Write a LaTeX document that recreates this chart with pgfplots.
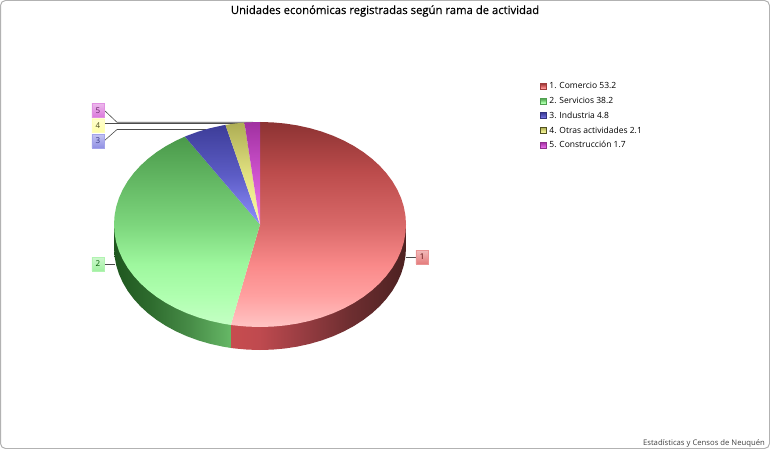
\documentclass[border=0pt]{standalone}
\usepackage{fontspec}
\setmainfont{Open Sans}
\newfontfamily\titlefont{Open Sans}[FakeBold=0.35]
\usepackage{pgfplots}
\pgfplotsset{compat=1.18}

\definecolor{rojo}{HTML}{E06666}
\definecolor{rojob}{HTML}{A03C3C}
\definecolor{verde}{HTML}{90EE90}
\definecolor{verdeb}{HTML}{50A050}
\definecolor{azul}{HTML}{5C5CD8}
\definecolor{azulb}{HTML}{333380}
\definecolor{amar}{HTML}{FFFF99}
\definecolor{amarb}{HTML}{505020}
\definecolor{viol}{HTML}{D050D0}
\definecolor{violb}{HTML}{903090}

% gradients of the slices: the bounding box of a path takes 25bp (bottom) to 75bp (top)
\pgfdeclareverticalshading{faceA}{100bp}{rgb(0bp)=(1,.77,.77); rgb(25bp)=(1,.77,.77); rgb(32.5bp)=(1,.63,.63); rgb(40bp)=(.98,.54,.54); rgb(50bp)=(.85,.41,.41); rgb(62.5bp)=(.74,.30,.30); rgb(75bp)=(.55,.20,.20); rgb(100bp)=(.55,.20,.20)}
\pgfdeclareverticalshading{faceB}{100bp}{rgb(0bp)=(.77,1,.77); rgb(25bp)=(.77,1,.77); rgb(32.5bp)=(.69,1,.69); rgb(41bp)=(.62,.97,.62); rgb(51.5bp)=(.49,.84,.49); rgb(75bp)=(.29,.60,.29); rgb(100bp)=(.29,.60,.29)}
\pgfdeclareverticalshading{faceC}{100bp}{rgb(0bp)=(.56,.56,1); rgb(25bp)=(.56,.56,1); rgb(50bp)=(.36,.36,.77); rgb(75bp)=(.24,.24,.60); rgb(100bp)=(.24,.24,.60)}
\pgfdeclareverticalshading{faceD}{100bp}{rgb(0bp)=(1,1,.66); rgb(25bp)=(1,1,.66); rgb(50bp)=(.88,.88,.50); rgb(75bp)=(.68,.68,.33); rgb(100bp)=(.68,.68,.33)}
\pgfdeclareverticalshading{faceE}{100bp}{rgb(0bp)=(.94,.50,.94); rgb(25bp)=(.94,.50,.94); rgb(50bp)=(.80,.32,.80); rgb(75bp)=(.63,.19,.63); rgb(100bp)=(.63,.19,.63)}
% side walls, 25bp = left, 75bp = right
\pgfdeclarehorizontalshading{wallA}{100bp}{rgb(0bp)=(.78,.30,.31); rgb(25bp)=(.78,.30,.31); rgb(33bp)=(.75,.29,.31); rgb(45bp)=(.60,.24,.26); rgb(59bp)=(.43,.18,.19); rgb(75bp)=(.30,.13,.13); rgb(100bp)=(.30,.13,.13)}
\pgfdeclarehorizontalshading{wallB}{100bp}{rgb(0bp)=(.12,.34,.12); rgb(25bp)=(.12,.34,.12); rgb(40.5bp)=(.18,.42,.18); rgb(57.5bp)=(.28,.55,.28); rgb(75bp)=(.40,.72,.40); rgb(100bp)=(.40,.72,.40)}

\pgfplotsset{
  swatch/.style 2 args={legend image code/.code={
    \draw[fill=#1,draw=#2,line width=.6pt] (0pt,-3pt) rectangle (6pt,3pt);}},
  leader/.style={forget plot,draw=black!70,line width=.6pt},
}
\tikzset{callout/.style 2 args={draw=#1!70,top color=#1!45,bottom color=#1!85,text=#2,
  minimum width=12.5pt,minimum height=13.5pt,inner sep=0pt,font=\fontsize{8}{9}\selectfont}}

\begin{document}
\begin{tikzpicture}
\begin{axis}[
  width=770pt, height=449pt, scale only axis,
  xmin=0, xmax=770, ymin=0, ymax=449, y dir=reverse,
  hide axis, clip=false,
  title={\fontsize{11.3}{13}\selectfont\titlefont Unidades económicas registradas según rama de actividad},
  title style={at={(axis description cs:0.5,0.962)},anchor=center,inner sep=0pt},
  legend style={at={(axis cs:539.5,81)},anchor=north west,draw=none,fill=none,
    inner sep=0pt,row sep=4.55pt,column sep=2pt,font=\fontsize{8.5}{10}\selectfont,
    nodes={inner ysep=.6pt,inner xsep=1.1pt,text height=7pt,text depth=2pt}},
  legend cell align=left,
]
% outer frame
\draw[black!30,line width=1pt,rounded corners=5pt] (axis cs:0.5,0.5) rectangle (axis cs:769.5,448.5);

% leader lines, under the pie
\addplot[leader] coordinates {(406,257) (416,257)};
\addplot[leader] coordinates {(104,264) (115,264)};
\addplot[leader] coordinates {(104,141) (117,129.5) (206,129.5)};
\addplot[leader] coordinates {(104,123) (240,123)};
\addplot[leader] coordinates {(104,110) (117,122.3) (253,122.3)};

% side walls: lower rim is the top rim moved down 23; the face covers the rest
\addplot[forget plot,shade,shading=wallA,draw=none] coordinates {
 (406,224.5) (406,247.5) (405.44,256.43) (403.78,265.30) (401.03,274.03) (397.19,282.56)
 (392.32,290.82) (386.44,298.75) (379.60,306.29) (371.84,313.39) (363.24,319.98)
 (353.85,326.02) (343.74,331.46) (333.00,336.27) (321.70,340.40) (309.94,343.82)
 (297.79,346.51) (285.35,348.44) (272.73,349.61) (260.00,350.00) (247.27,349.61)
 (234.65,348.44) (230.84,347.94) (230.84,324.94)} --cycle;
\addplot[forget plot,shade,shading=wallB,draw=none] coordinates {
 (230.84,324.94) (230.84,347.94) (222.21,346.51) (210.06,343.82) (198.30,340.40)
 (187.00,336.27) (176.26,331.46) (166.15,326.02) (156.76,319.98) (148.16,313.39)
 (140.40,306.29) (133.56,298.75) (127.68,290.82) (122.81,282.56) (118.97,274.03)
 (116.22,265.30) (114.56,256.43) (114,247.5) (114,224.5)} --cycle;

% 1. Comercio 53.2
\addplot[shade,shading=faceA,draw=none,swatch={rojo}{rojob}] coordinates {
 (260,224.5) (260.00,122.00) (272.73,122.39) (285.35,123.56) (297.79,125.49) (309.94,128.18)
 (321.70,131.60) (333.00,135.73) (343.74,140.54) (353.85,145.98) (363.24,152.02)
 (371.84,158.61) (379.60,165.71) (386.44,173.25) (392.32,181.18) (397.19,189.44)
 (401.03,197.97) (403.78,206.70) (405.44,215.57) (406.00,224.50) (405.44,233.43)
 (403.78,242.30) (401.03,251.03) (397.19,259.56) (392.32,267.82) (386.44,275.75)
 (379.60,283.29) (371.84,290.39) (363.24,296.98) (353.85,303.02) (343.74,308.46)
 (333.00,313.27) (321.70,317.40) (309.94,320.82) (297.79,323.51) (285.35,325.44)
 (272.73,326.61) (260.00,327.00) (247.27,326.61) (234.65,325.44) (230.84,324.94)} --cycle;
\addlegendentry{1. Comercio 53.2}

% 2. Servicios 38.2
\addplot[shade,shading=faceB,draw=none,swatch={verde}{verdeb}] coordinates {
 (260,224.5) (230.84,324.94) (222.21,323.51) (210.06,320.82) (198.30,317.40) (187.00,313.27)
 (176.26,308.46) (166.15,303.02) (156.76,296.98) (148.16,290.39) (140.40,283.29)
 (133.56,275.75) (127.68,267.82) (122.81,259.56) (118.97,251.03) (116.22,242.30)
 (114.56,233.43) (114.00,224.50) (114.56,215.57) (116.22,206.70) (118.97,197.97)
 (122.81,189.44) (127.68,181.18) (133.56,173.25) (140.40,165.71) (148.16,158.61)
 (156.76,152.02) (166.15,145.98) (176.26,140.54) (184.90,136.61)} --cycle;
\addlegendentry{2. Servicios 38.2}

% 3. Industria 4.8
\addplot[shade,shading=faceC,draw=none,swatch={azul}{azulb}] coordinates {
 (260,224.5) (184.90,136.61) (187.00,135.73) (198.30,131.60) (210.06,128.18) (222.21,125.49) (225.47,124.91)} --cycle;
\addlegendentry{3. Industria 4.8}

% 4. Otras actividades 2.1
\addplot[shade,shading=faceD,draw=none,swatch={amar}{amarb}] coordinates {
 (260,224.5) (225.47,124.91) (234.65,123.56) (244.44,122.58)} --cycle;
\addlegendentry{4. Otras actividades 2.1}

% 5. Construcción 1.7
\addplot[shade,shading=faceE,draw=none,swatch={viol}{violb}] coordinates {
 (260,224.5) (244.44,122.58) (247.27,122.39) (260,122)} --cycle;
\addlegendentry{5. Construcción 1.7}

% numbered callouts
\node[callout={rojo}{black!70!red}] at (axis cs:422.2,257) {1};
\node[callout={verde}{green!35!black}] at (axis cs:98,264) {2};
\node[callout={azul!80!white}{azulb}] at (axis cs:98,141) {3};
\node[callout={amar}{amarb}] at (axis cs:98,125.5) {4};
\node[callout={viol!90!white}{violb!70!black}] at (axis cs:98,110.3) {5};

\node[anchor=east,inner sep=0pt,text=black!75,font=\fontsize{7.7}{9}\selectfont] at (axis cs:765,443) {Estadísticas y Censos de Neuquén};
\end{axis}
\end{tikzpicture}
\end{document}
